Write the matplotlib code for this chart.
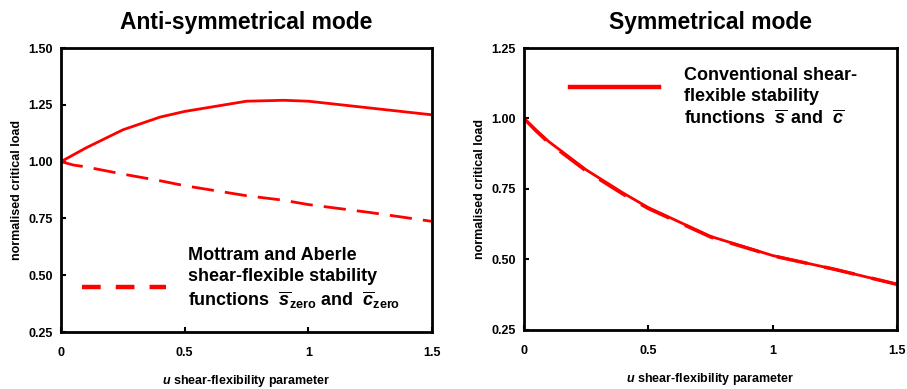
import matplotlib
matplotlib.use("Agg")
import matplotlib.pyplot as plt

plt.rcParams["font.family"] = ["Liberation Sans", "DejaVu Sans"]
plt.rcParams["font.weight"] = "bold"
plt.rcParams["mathtext.fontset"] = "custom"
plt.rcParams["mathtext.rm"] = "Liberation Sans:bold"
plt.rcParams["mathtext.bf"] = "Liberation Sans:bold"
plt.rcParams["mathtext.it"] = "Liberation Sans:italic:bold"

RED = "#ff0000"

# anti-symmetrical mode
u_anti = [0, 0.05, 0.1, 0.25, 0.4, 0.5, 0.75, 0.9, 1.0, 1.25, 1.5]
conv_anti = [1.0, 1.03, 1.06, 1.14, 1.196, 1.221, 1.266, 1.27, 1.266, 1.236, 1.206]
zero_anti = [1.0, 0.985, 0.977, 0.945, 0.916, 0.894, 0.85, 0.83, 0.811, 0.776, 0.737]

# symmetrical mode
u_sym = [0, 0.05, 0.1, 0.25, 0.4, 0.5, 0.75, 1.0, 1.25, 1.5]
conv_sym = [1.0, 0.958, 0.918, 0.818, 0.735, 0.684, 0.582, 0.514, 0.465, 0.412]
zero_sym = [1.0, 0.955, 0.914, 0.814, 0.731, 0.681, 0.58, 0.513, 0.465, 0.412]

xticks = [0, 0.5, 1, 1.5]
xticklabels = ["0", "0.5", "1", "1.5"]

fig = plt.figure(figsize=(9.07, 3.89), dpi=100)
ax1 = fig.add_axes([0.0673, 0.1465, 0.409, 0.730])
ax2 = fig.add_axes([0.5777, 0.1517, 0.4113, 0.7249])


def style(ax, ylim, yticks):
    ax.set_xlim(0, 1.5)
    ax.set_ylim(*ylim)
    ax.set_xticks(xticks)
    ax.set_xticklabels(xticklabels)
    ax.set_yticks(yticks)
    ax.set_yticklabels([f"{t:.2f}" for t in yticks])
    for sp in ax.spines.values():
        sp.set_linewidth(2)
    ax.tick_params(direction="in", length=3.5, width=1.5, labelsize=9)
    ax.tick_params(axis="x", pad=11)
    ax.tick_params(axis="y", pad=6)
    ax.set_xlabel("$u$ shear-flexibility parameter", fontsize=9, fontweight="bold", labelpad=10)
    ax.set_ylabel("normalised critical load", fontsize=9, fontweight="bold", labelpad=4)


ax1.plot(u_anti, conv_anti, color=RED, lw=2)
ax1.plot(u_anti, zero_anti, color=RED, lw=2, dashes=(8, 4))
style(ax1, (0.25, 1.5), [0.25, 0.5, 0.75, 1.0, 1.25, 1.5])
ax1.set_title("Anti-symmetrical mode", fontsize=16.5, fontweight="bold", pad=14)
ax1.plot([0.085, 0.425], [0.448, 0.448], color=RED, lw=3.2, dashes=(4.2, 3.4))
ax1.text(0.513, 0.482,
         "Mottram and Aberle\nshear-flexible stability\n"
         r"functions  $\overline{s}_{\mathrm{zero}}$ and  $\overline{c}_{\mathrm{zero}}$",
         fontsize=13, fontweight="bold", va="center", ha="left", linespacing=1.3)

ax2.plot(u_sym, zero_sym, color=RED, lw=2.5, dashes=(9, 5))
ax2.plot(u_sym, conv_sym, color=RED, lw=2)
style(ax2, (0.25, 1.25), [0.25, 0.5, 0.75, 1.0, 1.25])
ax2.set_title("Symmetrical mode", fontsize=16.5, fontweight="bold", pad=14)
ax2.plot([0.185, 0.543], [1.112, 1.112], color=RED, lw=3.2)
ax2.text(0.643, 1.074,
         "Conventional shear-\nflexible stability\n"
         r"functions  $\overline{s}$ and  $\overline{c}$",
         fontsize=13, fontweight="bold", va="center", ha="left", linespacing=1.3)

fig.savefig("out.png", dpi=100)
